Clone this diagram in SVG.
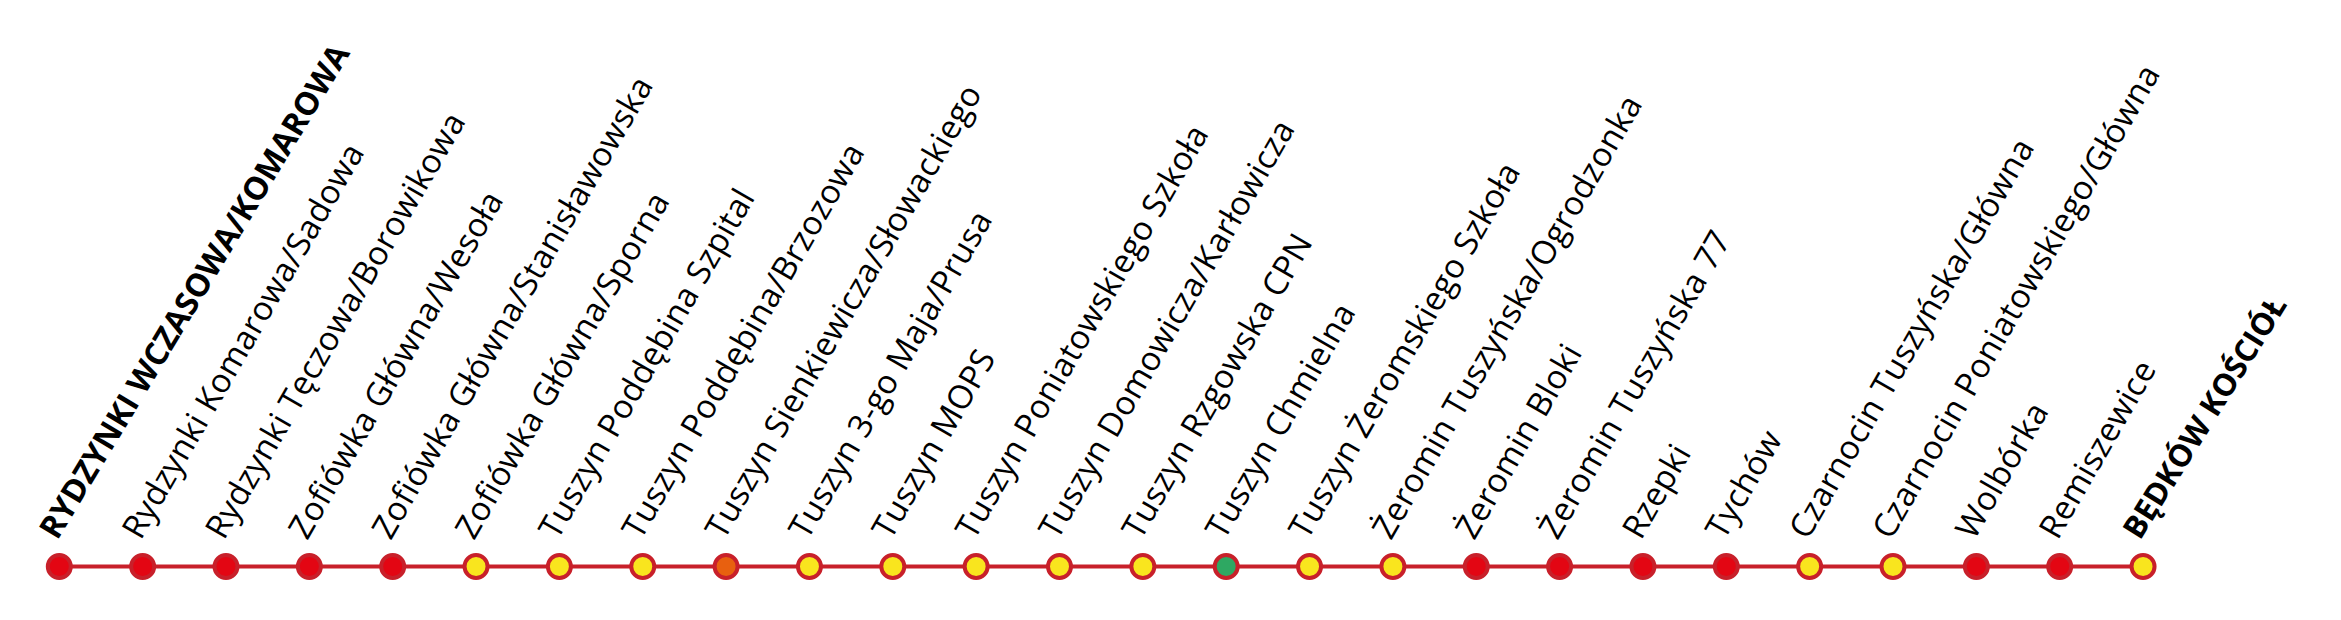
<svg xmlns="http://www.w3.org/2000/svg" width="2341" height="620" viewBox="0 0 2341 620">
<style>
.lbl{font-family:"Open Sans","Noto Sans","DejaVu Sans",sans-serif;font-size:33px;letter-spacing:0.3px;fill:#000;}
.b{font-weight:700;font-size:32px;letter-spacing:0;}
.st{stroke:#c8202a;stroke-width:4;}
.r{fill:#e30613;}
.y{fill:#f9e51e;}
.o{fill:#e8600f;}
.g{fill:#2ea862;}
</style>
<rect width="2341" height="620" fill="#ffffff"/>
<g id="connectors">
<line x1="59.3" y1="566.5" x2="2143" y2="566.5" stroke="#c8202a" stroke-width="4"/>
</g>
<g id="n0"><circle class="st r" cx="59.3" cy="566.5" r="11.5"/><text class="lbl b" x="57.3" y="541" transform="rotate(-59 57.3 541)">RYDZYNKI WCZASOWA/KOMAROWA</text></g>
<g id="n1"><circle class="st r" cx="142.65" cy="566.5" r="11.5"/><text class="lbl" x="140.65" y="541" transform="rotate(-60 140.65 541)">Rydzynki Komarowa/Sadowa</text></g>
<g id="n2"><circle class="st r" cx="226" cy="566.5" r="11.5"/><text class="lbl" x="224" y="541" transform="rotate(-60 224 541)">Rydzynki Tęczowa/Borowikowa</text></g>
<g id="n3"><circle class="st r" cx="309.35" cy="566.5" r="11.5"/><text class="lbl" x="307.35" y="541" transform="rotate(-60 307.35 541)">Zofiówka Główna/Wesoła</text></g>
<g id="n4"><circle class="st r" cx="392.7" cy="566.5" r="11.5"/><text class="lbl" x="390.7" y="541" transform="rotate(-60 390.7 541)">Zofiówka Główna/Stanisławowska</text></g>
<g id="n5"><circle class="st y" cx="476.05" cy="566.5" r="11.5"/><text class="lbl" x="474.05" y="541" transform="rotate(-60 474.05 541)">Zofiówka Główna/Sporna</text></g>
<g id="n6"><circle class="st y" cx="559.4" cy="566.5" r="11.5"/><text class="lbl" x="557.4" y="541" transform="rotate(-60 557.4 541)">Tuszyn Poddębina Szpital</text></g>
<g id="n7"><circle class="st y" cx="642.75" cy="566.5" r="11.5"/><text class="lbl" x="640.75" y="541" transform="rotate(-60 640.75 541)">Tuszyn Poddębina/Brzozowa</text></g>
<g id="n8"><circle class="st o" cx="726.1" cy="566.5" r="11.5"/><text class="lbl" x="724.1" y="541" transform="rotate(-60 724.1 541)">Tuszyn Sienkiewicza/Słowackiego</text></g>
<g id="n9"><circle class="st y" cx="809.45" cy="566.5" r="11.5"/><text class="lbl" x="807.45" y="541" transform="rotate(-60 807.45 541)">Tuszyn 3-go Maja/Prusa</text></g>
<g id="n10"><circle class="st y" cx="892.8" cy="566.5" r="11.5"/><text class="lbl" x="890.8" y="541" transform="rotate(-60 890.8 541)">Tuszyn MOPS</text></g>
<g id="n11"><circle class="st y" cx="976.15" cy="566.5" r="11.5"/><text class="lbl" x="974.15" y="541" transform="rotate(-60 974.15 541)">Tuszyn Poniatowskiego Szkoła</text></g>
<g id="n12"><circle class="st y" cx="1059.5" cy="566.5" r="11.5"/><text class="lbl" x="1057.5" y="541" transform="rotate(-60 1057.5 541)">Tuszyn Domowicza/Karłowicza</text></g>
<g id="n13"><circle class="st y" cx="1142.85" cy="566.5" r="11.5"/><text class="lbl" x="1140.85" y="541" transform="rotate(-60 1140.85 541)">Tuszyn Rzgowska CPN</text></g>
<g id="n14"><circle class="st g" cx="1226.2" cy="566.5" r="11.5"/><text class="lbl" x="1224.2" y="541" transform="rotate(-60 1224.2 541)">Tuszyn Chmielna</text></g>
<g id="n15"><circle class="st y" cx="1309.55" cy="566.5" r="11.5"/><text class="lbl" x="1307.55" y="541" transform="rotate(-60 1307.55 541)">Tuszyn Żeromskiego Szkoła</text></g>
<g id="n16"><circle class="st y" cx="1392.9" cy="566.5" r="11.5"/><text class="lbl" x="1390.9" y="541" transform="rotate(-60 1390.9 541)">Żeromin Tuszyńska/Ogrodzonka</text></g>
<g id="n17"><circle class="st r" cx="1476.25" cy="566.5" r="11.5"/><text class="lbl" x="1474.25" y="541" transform="rotate(-60 1474.25 541)">Żeromin Bloki</text></g>
<g id="n18"><circle class="st r" cx="1559.6" cy="566.5" r="11.5"/><text class="lbl" x="1557.6" y="541" transform="rotate(-60 1557.6 541)">Żeromin Tuszyńska 77</text></g>
<g id="n19"><circle class="st r" cx="1642.95" cy="566.5" r="11.5"/><text class="lbl" x="1640.95" y="541" transform="rotate(-60 1640.95 541)">Rzepki</text></g>
<g id="n20"><circle class="st r" cx="1726.3" cy="566.5" r="11.5"/><text class="lbl" x="1724.3" y="541" transform="rotate(-60 1724.3 541)">Tychów</text></g>
<g id="n21"><circle class="st y" cx="1809.65" cy="566.5" r="11.5"/><text class="lbl" x="1807.65" y="541" transform="rotate(-60 1807.65 541)">Czarnocin Tuszyńska/Główna</text></g>
<g id="n22"><circle class="st y" cx="1893" cy="566.5" r="11.5"/><text class="lbl" x="1891" y="541" transform="rotate(-60 1891 541)">Czarnocin Poniatowskiego/Główna</text></g>
<g id="n23"><circle class="st r" cx="1976.35" cy="566.5" r="11.5"/><text class="lbl" x="1974.35" y="541" transform="rotate(-60 1974.35 541)">Wolbórka</text></g>
<g id="n24"><circle class="st r" cx="2059.7" cy="566.5" r="11.5"/><text class="lbl" x="2057.7" y="541" transform="rotate(-60 2057.7 541)">Remiszewice</text></g>
<g id="n25"><circle class="st y" cx="2143.05" cy="566.5" r="11.5"/><text class="lbl b" x="2140.05" y="541" font-size="31" style="font-size:31px" transform="rotate(-58 2140.05 541)">BĘDKÓW KOŚCIÓŁ</text></g>
</svg>
